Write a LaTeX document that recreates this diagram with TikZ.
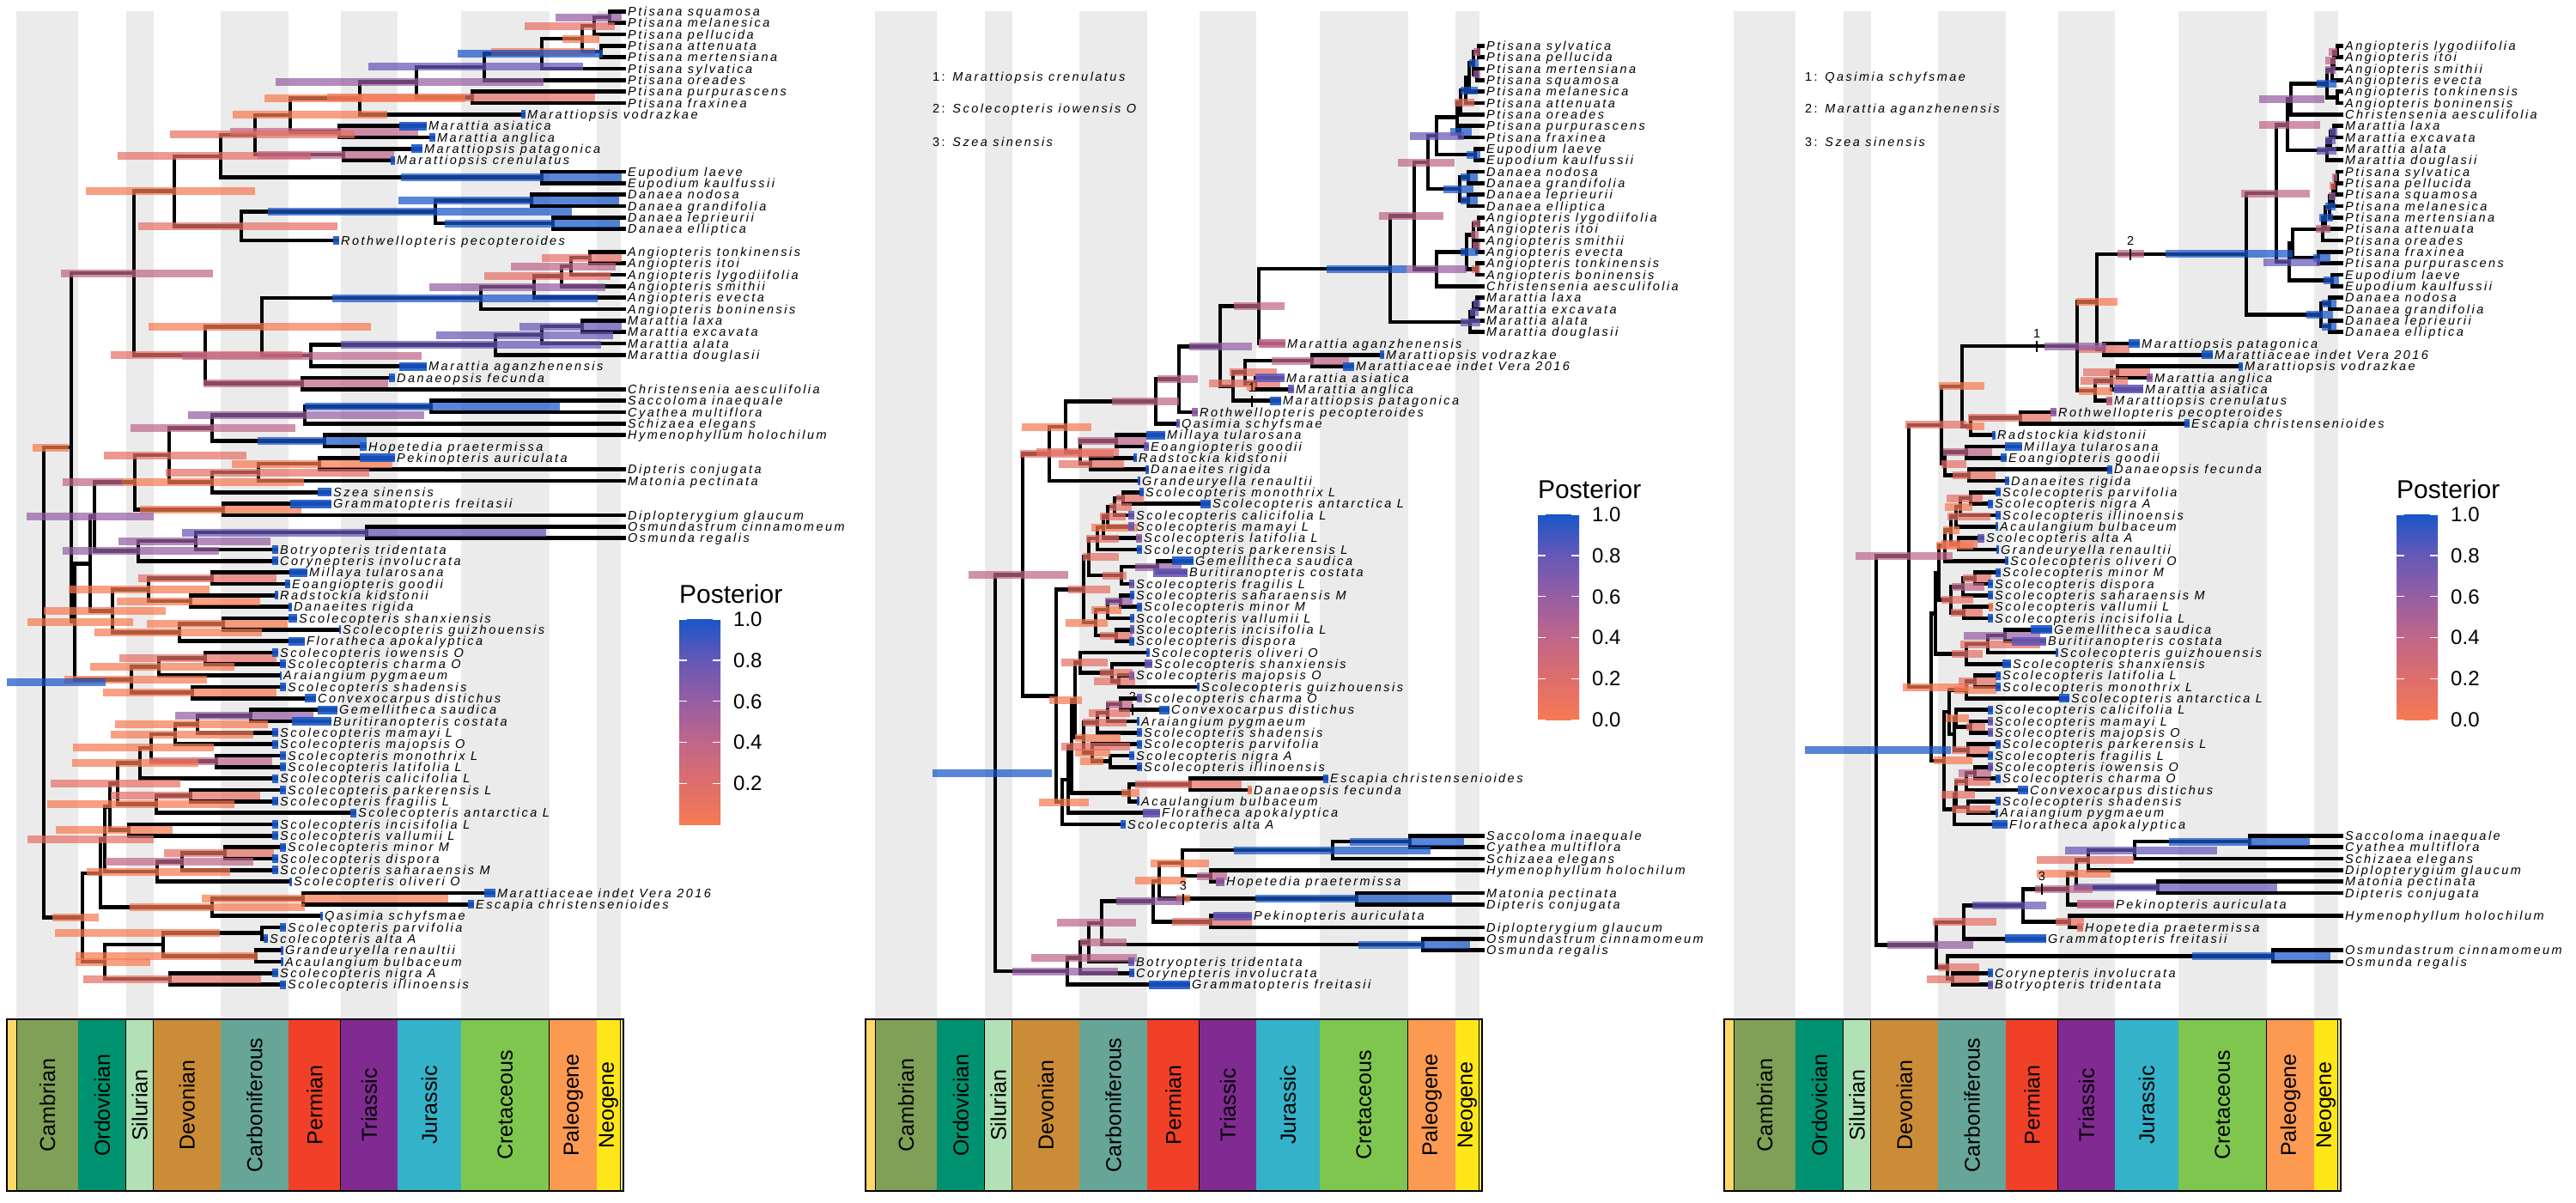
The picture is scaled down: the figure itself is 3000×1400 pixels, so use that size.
\documentclass[tikz,border=0pt]{standalone}
\usepackage{fontspec}
\setmainfont{Liberation Sans}
\newfontfamily\labfont{Liberation Sans}[LetterSpace=17]
\usetikzlibrary{calc}
\definecolor{k0}{RGB}{247,122,82}
\definecolor{k1}{RGB}{230,112,102}
\definecolor{k2}{RGB}{192,102,138}
\definecolor{k3}{RGB}{150,94,163}
\definecolor{k4}{RGB}{102,88,183}
\definecolor{k5}{RGB}{24,86,200}
\definecolor{g2}{RGB}{222,110,108}
\definecolor{stripecol}{RGB}{235,235,235}
\definecolor{edi}{RGB}{254,217,106}
\definecolor{cam}{RGB}{127,160,86}
\definecolor{ord}{RGB}{0,146,112}
\definecolor{sil}{RGB}{179,225,182}
\definecolor{dev}{RGB}{203,140,55}
\definecolor{car}{RGB}{103,165,153}
\definecolor{per}{RGB}{240,64,40}
\definecolor{tri}{RGB}{129,43,146}
\definecolor{jur}{RGB}{52,178,201}
\definecolor{cre}{RGB}{127,198,78}
\definecolor{pal}{RGB}{253,154,82}
\definecolor{neo}{RGB}{255,230,25}
\definecolor{qua}{RGB}{249,249,127}
\pgfdeclareverticalshading{postsh}{100bp}{color(0bp)=(k0); color(25bp)=(k0); color(35bp)=(g2); color(45bp)=(k2); color(55bp)=(k3); color(65bp)=(k4); color(75bp)=(k5); color(100bp)=(k5)}
\tikzset{
 br/.style={line width=4.6pt, line join=miter, line cap=butt},
 lab/.style={anchor=base west, inner sep=0pt, font=\labfont\fontsize{14.5}{15}\selectfont\itshape},
 mknum/.style={inner sep=0pt, font=\labfont\fontsize{14.5}{15}\selectfont},
 stripe/.style={fill=stripecol}
}
\def\off{0}
\newcommand\tp[4]{\coordinate (#1) at ({\off+#3},{#2*13.3333});
 \node[lab] (#1l) at ([xshift=2pt,yshift=-5pt]#1) {#4};}
\newcommand\cl[4]{\coordinate (tmpx) at ({\off+#2},0);
 \coordinate (tmpm) at ($(#3)!.5!(#4)$);
 \coordinate (#1) at (tmpx |- tmpm);
 \draw[br] (#3) -| (#1) |- (#4);}
\newcommand\hp[4]{\coordinate (tmpa) at ({\off+#2},0);\coordinate (tmpb) at ({\off+#3},0);
 \fill[#4,opacity=.72] ($(tmpa |- #1)+(0,-4.5)$) rectangle ($(tmpb |- #1)+(0,4.5)$);}
\newcommand\fs[3]{\fill[#3,opacity=.9] ($(#1)+(-#2,-5)$) rectangle ($(#1)+(0,5)$);}
\newcommand\mk[4]{\draw[line width=1.3pt] ({#2},{#3-6}) -- ({#2},{#3+7});
 \node[mknum] (#1) at ({#2},{#3-15}) {#4};}
\newcommand\decor[1]{%
 \foreach \pa/\pb in {19.1/91.2,146.7/178.6,257/336.1,396.7/463,537/639.7,695.2/722.6}
  {\fill[stripe] ({\off+\pa},13) rectangle ({\off+\pb},1187);}
 \fill[edi] ({\off+7.7},1187) rectangle ({\off+19.1},1387);
 \fill[qua] ({\off+722.6},1187) rectangle ({\off+725.8},1387);
 \foreach \pa/\pb/\pc/\pn in {19.1/91.2/cam/Cambrian,91.2/146.7/ord/Ordovician,146.7/178.6/sil/Silurian,178.6/257/dev/Devonian,257/336.1/car/Carboniferous,336.1/396.7/per/Permian,396.7/463/tri/Triassic,463/537/jur/Jurassic,537/639.7/cre/Cretaceous,639.7/695.2/pal/Paleogene,695.2/722.6/neo/Neogene}
  {\fill[\pc] ({\off+\pa},1187) rectangle ({\off+\pb},1387);
   \draw[line width=0.9pt] ({\off+\pb},1187) -- ({\off+\pb},1387);
   \node[rotate=90, inner sep=0pt, font=\fontsize{25}{25}\selectfont] (#1\pn) at ({\off+(\pa+\pb)/2},1287) {\pn};}
 \draw[line width=0.9pt] ({\off+19.1},1187) -- ({\off+19.1},1387);
 \draw[line width=2pt] ({\off+7.7},1187) rectangle ({\off+725.8},1387);
}
\newcommand\postleg[4]{%
 \node[anchor=west,inner sep=0pt,font=\fontsize{30}{30}\selectfont] (#4title) at ({\off+791},#2) {Posterior};
 \shade[shading=postsh] ({\off+791},#1) rectangle ({\off+839},{#1+239.5});
 \foreach \v/\t in {#3} {
   \draw[white,line width=1.2pt] ({\off+791},{#1+\v*47.9}) -- ({\off+800},{#1+\v*47.9});
   \draw[white,line width=1.2pt] ({\off+830},{#1+\v*47.9}) -- ({\off+839},{#1+\v*47.9});
   \node[anchor=west,inner sep=0pt,font=\fontsize{24}{24}\selectfont] (#4tick\v) at ({\off+854},{#1+\v*47.9}) {\t};
 }
}
\begin{document}
\begin{tikzpicture}[x=1pt,y=-1pt]
\useasboundingbox (0,0) rectangle (3000,1400);
%================ PANEL 1 =================
\def\off{0}
\decor{a}
\postleg{721}{692}{0/1.0,1/0.8,2/0.6,3/0.4,4/0.2}{a}
\tp{at1}{1}{729}{Ptisana squamosa}
\tp{at2}{2}{729}{Ptisana melanesica}
\tp{at3}{3}{729}{Ptisana pellucida}
\tp{at4}{4}{729}{Ptisana attenuata}
\tp{at5}{5}{729}{Ptisana mertensiana}
\tp{at6}{6}{729}{Ptisana sylvatica}
\tp{at7}{7}{729}{Ptisana oreades}
\tp{at8}{8}{729}{Ptisana purpurascens}
\tp{at9}{9}{729}{Ptisana fraxinea}
\tp{at10}{10}{612}{Marattiopsis vodrazkae}
\tp{at11}{11}{497}{Marattia asiatica}
\tp{at12}{12}{507}{Marattia anglica}
\tp{at13}{13}{492}{Marattiopsis patagonica}
\tp{at14}{14}{460}{Marattiopsis crenulatus}
\tp{at15}{15}{729}{Eupodium laeve}
\tp{at16}{16}{729}{Eupodium kaulfussii}
\tp{at17}{17}{729}{Danaea nodosa}
\tp{at18}{18}{729}{Danaea grandifolia}
\tp{at19}{19}{729}{Danaea leprieurii}
\tp{at20}{20}{729}{Danaea elliptica}
\tp{at21}{21}{395}{Rothwellopteris pecopteroides}
\tp{at22}{22}{729}{Angiopteris tonkinensis}
\tp{at23}{23}{729}{Angiopteris itoi}
\tp{at24}{24}{729}{Angiopteris lygodiifolia}
\tp{at25}{25}{729}{Angiopteris smithii}
\tp{at26}{26}{729}{Angiopteris evecta}
\tp{at27}{27}{729}{Angiopteris boninensis}
\tp{at28}{28}{729}{Marattia laxa}
\tp{at29}{29}{729}{Marattia excavata}
\tp{at30}{30}{729}{Marattia alata}
\tp{at31}{31}{729}{Marattia douglasii}
\tp{at32}{32}{497}{Marattia aganzhenensis}
\tp{at33}{33}{460}{Danaeopsis fecunda}
\tp{at34}{34}{729}{Christensenia aesculifolia}
\tp{at35}{35}{729}{Saccoloma inaequale}
\tp{at36}{36}{729}{Cyathea multiflora}
\tp{at37}{37}{729}{Schizaea elegans}
\tp{at38}{38}{729}{Hymenophyllum holochilum}
\tp{at39}{39}{427}{Hopetedia praetermissa}
\tp{at40}{40}{460}{Pekinopteris auriculata}
\tp{at41}{41}{729}{Dipteris conjugata}
\tp{at42}{42}{729}{Matonia pectinata}
\tp{at43}{43}{386}{Szea sinensis}
\tp{at44}{44}{386}{Grammatopteris freitasii}
\tp{at45}{45}{729}{Diplopterygium glaucum}
\tp{at46}{46}{729}{Osmundastrum cinnamomeum}
\tp{at47}{47}{729}{Osmunda regalis}
\tp{at48}{48}{324}{Botryopteris tridentata}
\tp{at49}{49}{324}{Corynepteris involucrata}
\tp{at50}{50}{358}{Millaya tularosana}
\tp{at51}{51}{338}{Eoangiopteris goodii}
\tp{at52}{52}{324}{Radstockia kidstonii}
\tp{at53}{53}{340}{Danaeites rigida}
\tp{at54}{54}{346}{Scolecopteris shanxiensis}
\tp{at55}{55}{397}{Scolecopteris guizhouensis}
\tp{at56}{56}{355}{Floratheca apokalyptica}
\tp{at57}{57}{324}{Scolecopteris iowensis O}
\tp{at58}{58}{333}{Scolecopteris charma O}
\tp{at59}{59}{328}{Araiangium pygmaeum}
\tp{at60}{60}{333}{Scolecopteris shadensis}
\tp{at61}{61}{368}{Convexocarpus distichus}
\tp{at62}{62}{393}{Gemellitheca saudica}
\tp{at63}{63}{386}{Buritiranopteris costata}
\tp{at64}{64}{324}{Scolecopteris mamayi L}
\tp{at65}{65}{324}{Scolecopteris majopsis O}
\tp{at66}{66}{333}{Scolecopteris monothrix L}
\tp{at67}{67}{333}{Scolecopteris latifolia L}
\tp{at68}{68}{324}{Scolecopteris calicifolia L}
\tp{at69}{69}{333}{Scolecopteris parkerensis L}
\tp{at70}{70}{324}{Scolecopteris fragilis L}
\tp{at71}{71}{415}{Scolecopteris antarctica L}
\tp{at72}{72}{324}{Scolecopteris incisifolia L}
\tp{at73}{73}{324}{Scolecopteris vallumii L}
\tp{at74}{74}{333}{Scolecopteris minor M}
\tp{at75}{75}{324}{Scolecopteris dispora}
\tp{at76}{76}{324}{Scolecopteris saharaensis M}
\tp{at77}{77}{340}{Scolecopteris oliveri O}
\tp{at78}{78}{577}{Marattiaceae indet Vera 2016}
\tp{at79}{79}{552}{Escapia christensenioides}
\tp{at80}{80}{376}{Qasimia schyfsmae}
\tp{at81}{81}{333}{Scolecopteris parvifolia}
\tp{at82}{82}{312}{Scolecopteris alta A}
\tp{at83}{83}{330}{Grandeuryella renaultii}
\tp{at84}{84}{330}{Acaulangium bulbaceum}
\tp{at85}{85}{324}{Scolecopteris nigra A}
\tp{at86}{86}{333}{Scolecopteris illinoensis}
% branches
\cl{aQ1}{710}{at1}{at2}
\cl{aQ2}{692}{aQ1}{at3}
\cl{aQ3}{700}{at4}{at5}
\cl{aQ4}{678}{aQ2}{aQ3}
\cl{aQ5}{631}{aQ4}{at6}
\cl{aQ6}{564}{aQ5}{at7}
\cl{aQ7}{550}{at8}{at9}
\cl{aQ8}{485}{aQ6}{aQ7}
\cl{aQ9}{419}{aQ8}{at10}
\cl{aM1}{395}{at11}{at12}
\cl{aM2}{338}{aQ9}{aM1}
\cl{aM3}{400}{at13}{at14}
\cl{aM4}{297}{aM2}{aM3}
\cl{aE1}{631}{at15}{at16}
\cl{aM5}{257}{aM4}{aE1}
\cl{aD1}{619}{at17}{at18}
\cl{aD2}{644}{at19}{at20}
\cl{aD3}{507}{aD1}{aD2}
\cl{aD4}{281}{aD3}{at21}
\cl{aM6}{203}{aM5}{aD4}
\cl{aA1}{687}{at22}{at23}
\cl{aA2}{665}{aA1}{at24}
\cl{aA3}{654}{aA2}{at25}
\cl{aA4}{622}{aA3}{at26}
\cl{aA5}{560}{aA4}{at27}
\cl{aMa1}{678}{at28}{at29}
\cl{aMa2}{631}{aMa1}{at30}
\cl{aMa3}{577}{aMa2}{at31}
\cl{aMa4}{362}{aMa3}{at32}
\cl{aA6}{305}{aA5}{aMa4}
\cl{aMa5}{352}{at33}{at34}
\cl{aA7}{239}{aA6}{aMa5}
\cl{aMar1}{156}{aM6}{aA7}
\cl{aF1}{502}{at35}{at36}
\cl{aF2}{355}{aF1}{at37}
\cl{aF3}{378}{at38}{at39}
\cl{aF4}{247}{aF2}{aF3}
\cl{aF5}{372}{at40}{at41}
\cl{aF6}{301}{aF5}{at42}
\cl{aF7}{247}{aF6}{at43}
\cl{aF8}{260}{at44}{at45}
\cl{aF9}{197}{aF4}{aF7}
\cl{aF10}{157}{aF9}{aF8}
\cl{aO1}{427}{at46}{at47}
\cl{aO2}{228}{aO1}{at48}
\cl{aB2}{161}{aO2}{at49}
\cl{aG1}{110}{aF10}{aB2}
\cl{aNA}{247}{at50}{at51}
\cl{aNB}{222}{at52}{at53}
\cl{aNC}{173}{aNA}{aNB}
\cl{aND}{260}{at54}{at55}
\cl{aNE}{209}{aND}{at56}
\cl{aNF}{131}{aNC}{aNE}
\cl{aG2}{105}{aG1}{aNF}
\cl{aS1}{239}{at57}{at58}
\cl{aS2}{185}{aS1}{at59}
\cl{aS3}{224}{at60}{at61}
\cl{aS4}{153}{aS2}{aS3}
\cl{aW}{87}{aG2}{aS4}
\cl{aX}{83}{aMar1}{aW}
\cl{aS5}{292}{at62}{at63}
\cl{aS6}{230}{aS5}{at64}
\cl{aS7}{204}{aS6}{at65}
\cl{aS8}{252}{at66}{at67}
\cl{aS9}{176}{aS7}{aS8}
\cl{aS10}{163}{aS9}{at68}
\cl{aS11}{222}{at69}{at70}
\cl{aS12}{182}{aS11}{at71}
\cl{aS13}{137}{aS10}{aS12}
\cl{aS14}{150}{at72}{at73}
\cl{aS15}{128}{aS13}{aS14}
\cl{aS16}{262}{at74}{at75}
\cl{aS17}{212}{aS16}{at76}
\cl{aS18}{183}{aS17}{at77}
\cl{aS19}{122}{aS15}{aS18}
\cl{aM78}{353}{at78}{at79}
\cl{aQa}{247}{aM78}{at80}
\cl{aS20}{117}{aS19}{aQa}
\cl{aL1}{305}{at81}{at82}
\cl{aL2}{298}{at83}{at84}
\cl{aL3}{190}{aL1}{aL2}
\cl{aL4}{198}{at85}{at86}
\cl{aL5}{122}{aL3}{aL4}
\cl{aY}{96}{aS20}{aL5}
\cl{aRoot}{51}{aX}{aY}
% bars
\hp{aQ1}{647}{724}{k3}\hp{aQ2}{611}{716}{k1}\hp{aQ3}{572}{693}{k0}\hp{aQ4}{655}{698}{k0}
\hp{aQ5}{533}{702}{k5}\hp{aQ6}{429}{679}{k4}\hp{aQ8}{321}{633}{k3}\hp{aQ7}{381}{693}{k1}
\hp{aQ9}{308}{542}{k0}\hp{aM2}{271}{451}{k0}\hp{aM1}{268}{487}{k2}\hp{aM4}{198}{413}{k1}
\hp{aM5}{137}{362}{k1}\hp{aM3}{300}{459}{k2}\hp{aE1}{467}{724}{k5}\hp{aD1}{464}{721}{k5}
\hp{aD3}{312}{666}{k5}\hp{aD2}{518}{722}{k5}\hp{aD4}{161}{393}{k1}\hp{aM6}{100}{297}{k0}
\hp{aMar1}{71}{248}{k2}\hp{aA1}{631}{724}{k1}\hp{aA2}{595}{717}{k2}\hp{aA3}{564}{711}{k1}
\hp{aA4}{500}{705}{k3}\hp{aA5}{387}{696}{k5}\hp{aMa1}{605}{724}{k4}\hp{aMa2}{508}{714}{k4}
\hp{aMa3}{397}{700}{k4}\hp{aA6}{173}{432}{k0}\hp{aA7}{129}{352}{k1}\hp{aMa4}{212}{491}{k2}
\hp{aMa5}{237}{452}{k2}\hp{aF1}{355}{652}{k5}\hp{aF2}{219}{494}{k3}\hp{aF4}{152}{344}{k2}
\hp{aF3}{300}{427}{k5}\hp{aF9}{121}{287}{k1}\hp{aF5}{270}{457}{k0}\hp{aF6}{193}{430}{k1}
\hp{aF7}{142}{354}{k0}\hp{aF10}{73}{143}{k2}\hp{aF8}{163}{351}{k0}\hp{aG1}{31}{179}{k3}
\hp{aO1}{212}{636}{k4}\hp{aO2}{138}{315}{k3}\hp{aB2}{73}{255}{k3}\hp{aNA}{161}{322}{k1}
\hp{aNC}{80}{244}{k0}\hp{aNB}{136}{303}{k0}\hp{aNF}{51}{193}{k0}\hp{aND}{171}{335}{k0}
\hp{aNE}{110}{305}{k0}\hp{aW}{32}{155}{k0}\hp{aX}{38}{80}{k0}\hp{aS1}{139}{322}{k1}
\hp{aS2}{105}{273}{k0}\hp{aS4}{75}{241}{k0}\hp{aS3}{120}{322}{k0}\hp{aS5}{204}{365}{k3}
\hp{aS6}{134}{312}{k0}\hp{aS7}{129}{295}{k0}\hp{aS8}{174}{317}{k2}\hp{aS9}{85}{249}{k0}
\hp{aS10}{84}{231}{k0}\hp{aS11}{129}{303}{k1}\hp{aS12}{55}{273}{k0}\hp{aS13}{59}{210}{k1}
\hp{aS14}{65}{201}{k0}\hp{aS16}{191}{319}{k1}\hp{aS17}{123}{295}{k2}\hp{aS18}{101}{268}{k0}
\hp{aS19}{32}{179}{k1}\hp{aM78}{235}{522}{k0}\hp{aQa}{151}{355}{k0}\hp{aY}{61}{115}{k0}
\hp{aL1}{64}{256}{k0}\hp{aL2}{88}{300}{k0}\hp{aL5}{88}{175}{k0}\hp{aL4}{97}{304}{k1}
\hp{aRoot}{8}{123}{k5}
% fossil tips
\fs{at10}{5}{k5}\fs{at11}{32}{k5}\fs{at12}{7}{k5}\fs{at13}{13}{k5}\fs{at14}{5}{k5}
\fs{at21}{7}{k5}\fs{at32}{32}{k5}\fs{at33}{7}{k5}\fs{at39}{8}{k5}\fs{at40}{41}{k5}
\fs{at43}{16}{k5}\fs{at44}{48}{k5}\fs{at48}{7}{k5}\fs{at49}{7}{k5}\fs{at50}{21}{k5}
\fs{at51}{6}{k5}\fs{at52}{4}{k5}\fs{at53}{4}{k5}\fs{at54}{10}{k5}\fs{at55}{2}{k5}
\fs{at56}{19}{k5}\fs{at57}{7}{k5}\fs{at58}{7}{k5}\fs{at59}{2}{k5}\fs{at60}{7}{k5}
\fs{at61}{13}{k5}\fs{at62}{23}{k5}\fs{at63}{46}{k5}
\foreach \q in {64,...,76} {\fs{at\q}{7}{k5}}
\fs{at77}{3}{k5}\fs{at78}{13}{k5}\fs{at79}{7}{k5}\fs{at80}{3}{k5}\fs{at81}{7}{k5}
\fs{at82}{5}{k5}\fs{at83}{3}{k5}\fs{at84}{3}{k5}\fs{at85}{7}{k5}\fs{at86}{7}{k5}
%================ PANEL 2 =================
\def\off{1000}
\decor{b}
\postleg{599}{570}{0/1.0,1/0.8,2/0.6,3/0.4,4/0.2,5/0.0}{b}
\node[lab] (bn1) at (1086,94.3) {\upshape 1: \itshape Marattiopsis crenulatus};
\node[lab] (bn2) at (1086,131) {\upshape 2: \itshape Scolecopteris iowensis O};
\node[lab] (bn3) at (1086,170) {\upshape 3: \itshape Szea sinensis};
\tp{bt4}{4}{729}{Ptisana sylvatica}
\tp{bt5}{5}{729}{Ptisana pellucida}
\tp{bt6}{6}{729}{Ptisana mertensiana}
\tp{bt7}{7}{729}{Ptisana squamosa}
\tp{bt8}{8}{729}{Ptisana melanesica}
\tp{bt9}{9}{729}{Ptisana attenuata}
\tp{bt10}{10}{729}{Ptisana oreades}
\tp{bt11}{11}{729}{Ptisana purpurascens}
\tp{bt12}{12}{729}{Ptisana fraxinea}
\tp{bt13}{13}{729}{Eupodium laeve}
\tp{bt14}{14}{729}{Eupodium kaulfussii}
\tp{bt15}{15}{729}{Danaea nodosa}
\tp{bt16}{16}{729}{Danaea grandifolia}
\tp{bt17}{17}{729}{Danaea leprieurii}
\tp{bt18}{18}{729}{Danaea elliptica}
\tp{bt19}{19}{729}{Angiopteris lygodiifolia}
\tp{bt20}{20}{729}{Angiopteris itoi}
\tp{bt21}{21}{729}{Angiopteris smithii}
\tp{bt22}{22}{729}{Angiopteris evecta}
\tp{bt23}{23}{729}{Angiopteris tonkinensis}
\tp{bt24}{24}{729}{Angiopteris boninensis}
\tp{bt25}{25}{729}{Christensenia aesculifolia}
\tp{bt26}{26}{729}{Marattia laxa}
\tp{bt27}{27}{729}{Marattia excavata}
\tp{bt28}{28}{729}{Marattia alata}
\tp{bt29}{29}{729}{Marattia douglasii}
\tp{bt30}{30}{497}{Marattia aganzhenensis}
\tp{bt31}{31}{612}{Marattiopsis vodrazkae}
\tp{bt32}{32}{577}{Marattiaceae indet Vera 2016}
\tp{bt33}{33}{496}{Marattia asiatica}
\tp{bt34}{34}{507}{Marattia anglica}
\tp{bt35}{35}{492}{Marattiopsis patagonica}
\tp{bt36}{36}{395}{Rothwellopteris pecopteroides}
\tp{bt37}{37}{374}{Qasimia schyfsmae}
\tp{bt38}{38}{357}{Millaya tularosana}
\tp{bt39}{39}{338}{Eoangiopteris goodii}
\tp{bt40}{40}{324}{Radstockia kidstonii}
\tp{bt41}{41}{338}{Danaeites rigida}
\tp{bt42}{42}{328}{Grandeuryella renaultii}
\tp{bt43}{43}{332}{Scolecopteris monothrix L}
\tp{bt44}{44}{410}{Scolecopteris antarctica L}
\tp{bt45}{45}{321}{Scolecopteris calicifolia L}
\tp{bt46}{46}{321}{Scolecopteris mamayi L}
\tp{bt47}{47}{330}{Scolecopteris latifolia L}
\tp{bt48}{48}{330}{Scolecopteris parkerensis L}
\tp{bt49}{49}{390}{Gemellitheca saudica}
\tp{bt50}{50}{383}{Buritiranopteris costata}
\tp{bt51}{51}{321}{Scolecopteris fragilis L}
\tp{bt52}{52}{321}{Scolecopteris saharaensis M}
\tp{bt53}{53}{330}{Scolecopteris minor M}
\tp{bt54}{54}{321}{Scolecopteris vallumii L}
\tp{bt55}{55}{321}{Scolecopteris incisifolia L}
\tp{bt56}{56}{321}{Scolecopteris dispora}
\tp{bt57}{57}{339}{Scolecopteris oliveri O}
\tp{bt58}{58}{342}{Scolecopteris shanxiensis}
\tp{bt59}{59}{321}{Scolecopteris majopsis O}
\tp{bt60}{60}{397}{Scolecopteris guizhouensis}
\tp{bt61}{61}{330}{Scolecopteris charma O}
\tp{bt62}{62}{362}{Convexocarpus distichus}
\tp{bt63}{63}{327}{Araiangium pygmaeum}
\tp{bt64}{64}{330}{Scolecopteris shadensis}
\tp{bt65}{65}{330}{Scolecopteris parvifolia}
\tp{bt66}{66}{321}{Scolecopteris nigra A}
\tp{bt67}{67}{330}{Scolecopteris illinoensis}
\tp{bt68}{68}{547}{Escapia christensenioides}
\tp{bt69}{69}{458}{Danaeopsis fecunda}
\tp{bt70}{70}{327}{Acaulangium bulbaceum}
\tp{bt71}{71}{351}{Floratheca apokalyptica}
\tp{bt72}{72}{311}{Scolecopteris alta A}
\tp{bt73}{73}{729}{Saccoloma inaequale}
\tp{bt74}{74}{729}{Cyathea multiflora}
\tp{bt75}{75}{729}{Schizaea elegans}
\tp{bt76}{76}{729}{Hymenophyllum holochilum}
\tp{bt77}{77}{426}{Hopetedia praetermissa}
\tp{bt78}{78}{729}{Matonia pectinata}
\tp{bt79}{79}{729}{Dipteris conjugata}
\tp{bt80}{80}{458}{Pekinopteris auriculata}
\tp{bt81}{81}{729}{Diplopterygium glaucum}
\tp{bt82}{82}{729}{Osmundastrum cinnamomeum}
\tp{bt83}{83}{729}{Osmunda regalis}
\tp{bt84}{84}{321}{Botryopteris tridentata}
\tp{bt85}{85}{321}{Corynepteris involucrata}
\tp{bt86}{86}{386}{Grammatopteris freitasii}
\cl{bP1}{722}{bt4}{bt5}
\cl{bP2}{720}{bt6}{bt7}
\cl{bP3}{716}{bP1}{bP2}
\cl{bP4}{711}{bP3}{bt8}
\cl{bP5}{707}{bP4}{bt9}
\cl{bP6}{701}{bP5}{bt10}
\cl{bP7}{700}{bt11}{bt12}
\cl{bP8}{697}{bP6}{bP7}
\cl{bE1}{718}{bt13}{bt14}
\cl{bP9}{673}{bP8}{bE1}
\cl{bD1}{710}{bt15}{bt16}
\cl{bD2}{710}{bt17}{bt18}
\cl{bD3}{700}{bD1}{bD2}
\cl{bP10}{663}{bP9}{bD3}
\cl{bA1}{722}{bt19}{bt20}
\cl{bA2}{720}{bt21}{bt22}
\cl{bA3}{716}{bA1}{bA2}
\cl{bA4}{720}{bt23}{bt24}
\cl{bA5}{708}{bA3}{bA4}
\cl{bA6}{673}{bA5}{bt25}
\cl{bN647}{647}{bP10}{bA6}
\cl{bM1}{720}{bt26}{bt27}
\cl{bM2}{716}{bM1}{bt28}
\cl{bM3}{712}{bM2}{bt29}
\cl{bN619}{619}{bN647}{bM3}
\cl{bN466}{466}{bN619}{bt30}
\cl{bV1}{528}{bt31}{bt32}
\cl{bV3}{462}{bt33}{bt34}
\cl{bV4}{450}{bV1}{bV3}
\cl{bV5}{436}{bV4}{bt35}
\cl{bN421}{421}{bN466}{bV5}
\cl{bN373}{373}{bN421}{bt36}
\cl{bN346}{346}{bN373}{bt37}
\cl{bMG1}{300}{bt38}{bt39}
\cl{bMG2}{270}{bt40}{bt41}
\cl{bMG3}{258}{bMG1}{bMG2}
\cl{bN240}{241}{bN346}{bMG3}
\cl{bN222}{222}{bN240}{bt42}
\cl{bS1}{308}{bt43}{bt44}
\cl{bS2}{298}{bS1}{bt45}
\cl{bS3}{290}{bS2}{bt46}
\cl{bS4}{285}{bS3}{bt47}
\cl{bS5}{278}{bS4}{bt48}
\cl{bB1}{348}{bt49}{bt50}
\cl{bB2}{306}{bB1}{bt51}
\cl{bS6}{268}{bS5}{bB2}
\cl{bS7}{305}{bt52}{bt53}
\cl{bS8}{290}{bS7}{bt54}
\cl{bS9}{300}{bt55}{bt56}
\cl{bS10}{276}{bS8}{bS9}
\cl{bS11}{262}{bS6}{bS10}
\cl{bS12}{303}{bt59}{bt60}
\cl{bS13}{295}{bt58}{bS12}
\cl{bS14}{258}{bt57}{bS13}
\cl{bS15}{305}{bt61}{bt62}
\cl{bS16}{290}{bS15}{bt63}
\cl{bS17}{278}{bS16}{bt64}
\cl{bS18}{293}{bt66}{bt67}
\cl{bS19}{272}{bt65}{bS18}
\cl{bS20}{262}{bS17}{bS19}
\cl{bS21}{252}{bS14}{bS20}
\cl{bE1b}{386}{bt68}{bt69}
\cl{bE2}{315}{bE1b}{bt70}
\cl{bK1}{248}{bS21}{bE2}
\cl{bK2}{244}{bK1}{bt71}
\cl{bK}{237}{bK2}{bt72}
\cl{bL}{230}{bS11}{bK}
\cl{bN191}{191}{bN222}{bL}
\cl{bF1}{642}{bt73}{bt74}
\cl{bF2}{552}{bF1}{bt75}
\cl{bF3}{410}{bt76}{bt77}
\cl{bF4}{377}{bF2}{bF3}
\cl{bF5}{580}{bt78}{bt79}
\cl{bF6}{350}{bF4}{bF5}
\cl{bF7}{410}{bt80}{bt81}
\cl{bF8}{343}{bF6}{bF7}
\cl{bO1}{657}{bt82}{bt83}
\cl{bF9}{283}{bF8}{bO1}
\cl{bB1f}{268}{bF9}{bt84}
\cl{bB2f}{258}{bB1f}{bt85}
\cl{bB3f}{243}{bB2f}{bt86}
\cl{bRoot}{159}{bN191}{bB3f}
\hp{bP1}{716}{724}{k2}\hp{bP2}{716}{724}{k3}\hp{bP3}{711}{722}{k5}\hp{bP5}{701}{721}{k5}
\hp{bP6}{694}{717}{k1}\hp{bP7}{689}{714}{k5}\hp{bP9}{642}{705}{k4}\hp{bE1}{708}{724}{k5}
\hp{bD1}{701}{721}{k5}\hp{bD2}{701}{721}{k5}\hp{bD3}{681}{716}{k5}\hp{bP10}{628}{694}{k2}
\hp{bA1}{715}{724}{k2}\hp{bA2}{715}{724}{k2}\hp{bA3}{713}{722}{k2}\hp{bA4}{714}{724}{k1}
\hp{bA5}{701}{721}{k5}\hp{bA6}{638}{708}{k3}\hp{bN647}{606}{681}{k2}\hp{bN619}{545}{638}{k5}
\hp{bM1}{716}{724}{k4}\hp{bM2}{712}{722}{k4}\hp{bM3}{701}{724}{k4}\hp{bN466}{437}{496}{k2}
\hp{bV1}{481}{571}{k2}\hp{bV3}{408}{491}{k1}\hp{bV4}{432}{487}{k1}\hp{bV5}{452}{462}{k0}
\hp{bN421}{385}{458}{k3}\hp{bN373}{348}{395}{k2}\hp{bN346}{295}{373}{k2}\hp{bMG1}{255}{335}{k2}
\hp{bMG2}{233}{309}{k1}\hp{bMG3}{207}{303}{k1}\hp{bN240}{190}{271}{k0}\hp{bN222}{188}{297}{k1}
\hp{bN191}{128}{244}{k2}
\hp{bS1}{300}{332}{k1}\hp{bS2}{292}{318}{k1}\hp{bS3}{281}{311}{k1}\hp{bS4}{271}{325}{k0}
\hp{bS5}{265}{303}{k1}\hp{bB1}{322}{376}{k3}\hp{bB2}{284}{312}{k1}\hp{bS6}{261}{303}{k1}
\hp{bS7}{287}{319}{k3}\hp{bS8}{271}{306}{k0}\hp{bS9}{281}{319}{k1}\hp{bS10}{241}{290}{k0}
\hp{bS11}{244}{293}{k1}\hp{bS12}{274}{322}{k1}\hp{bS13}{281}{319}{k1}\hp{bS14}{236}{290}{k1}
\hp{bS15}{288}{319}{k2}\hp{bS16}{268}{316}{k1}\hp{bS17}{261}{312}{k1}\hp{bS18}{258}{285}{k0}
\hp{bS19}{252}{293}{k0}\hp{bS20}{252}{305}{k0}\hp{bS21}{222}{260}{k0}\hp{bE1b}{322}{446}{k1}
\hp{bE2}{306}{327}{k0}\hp{bK1}{236}{316}{k1}\hp{bK}{210}{268}{k0}\hp{bRoot}{86}{225}{k5}
\hp{bF1}{572}{705}{k5}\hp{bF2}{437}{666}{k5}\hp{bF3}{394}{429}{k2}\hp{bF4}{340}{408}{k0}
\hp{bF5}{462}{691}{k5}\hp{bF5}{370}{386}{k0}\hp{bF6}{322}{381}{k0}\hp{bF7}{365}{458}{k1}
\hp{bF8}{300}{379}{k3}\hp{bO1}{582}{712}{k5}\hp{bF9}{231}{323}{k2}\hp{bB1f}{258}{312}{k2}
\hp{bB2f}{201}{324}{k2}\hp{bB3f}{179}{302}{k3}
\fs{bt30}{31}{k2}\fs{bt31}{5}{k5}\fs{bt32}{13}{k5}\fs{bt33}{34}{k4}\fs{bt34}{7}{k4}
\fs{bt35}{13}{k5}\fs{bt36}{7}{k3}\fs{bt37}{4}{k4}\fs{bt38}{22}{k5}\fs{bt39}{6}{k4}
\fs{bt40}{4}{k5}\fs{bt41}{4}{k5}\fs{bt42}{3}{k5}\fs{bt43}{5}{k5}\fs{bt44}{12}{k5}
\fs{bt45}{7}{k4}\fs{bt46}{7}{k4}\fs{bt47}{7}{k3}\fs{bt48}{6}{k5}\fs{bt49}{25}{k5}
\fs{bt50}{40}{k4}\fs{bt51}{6}{k4}\fs{bt52}{5}{k5}\fs{bt53}{6}{k5}\fs{bt54}{5}{k5}
\fs{bt55}{5}{k4}\fs{bt56}{6}{k5}\fs{bt57}{4}{k5}\fs{bt58}{9}{k4}\fs{bt59}{6}{k3}
\fs{bt60}{3}{k5}\fs{bt61}{6}{k4}\fs{bt62}{12}{k5}\fs{bt63}{3}{k5}\fs{bt64}{6}{k5}
\fs{bt65}{6}{k5}\fs{bt66}{6}{k5}\fs{bt67}{6}{k5}\fs{bt68}{6}{k5}\fs{bt69}{5}{k0}
\fs{bt70}{3}{k5}\fs{bt71}{20}{k4}\fs{bt72}{6}{k5}\fs{bt77}{10}{k3}\fs{bt80}{45}{k4}
\fs{bt84}{7}{k4}\fs{bt85}{6}{k5}\fs{bt86}{48}{k5}
\mk{bm1}{1458}{466.7}{1}
\mk{bm2}{1319}{826}{2}
\mk{bm3}{1378}{1046.7}{3}
%================ PANEL 3 =================
\def\off{2000}
\decor{c}
\postleg{599}{570}{0/1.0,1/0.8,2/0.6,3/0.4,4/0.2,5/0.0}{c}
\node[lab] (cn1) at (2102,94.3) {\upshape 1: \itshape Qasimia schyfsmae};
\node[lab] (cn2) at (2102,131) {\upshape 2: \itshape Marattia aganzhenensis};
\node[lab] (cn3) at (2102,170) {\upshape 3: \itshape Szea sinensis};
\tp{ct4}{4}{729}{Angiopteris lygodiifolia}
\tp{ct5}{5}{729}{Angiopteris itoi}
\tp{ct6}{6}{729}{Angiopteris smithii}
\tp{ct7}{7}{729}{Angiopteris evecta}
\tp{ct8}{8}{729}{Angiopteris tonkinensis}
\tp{ct9}{9}{729}{Angiopteris boninensis}
\tp{ct10}{10}{729}{Christensenia aesculifolia}
\tp{ct11}{11}{729}{Marattia laxa}
\tp{ct12}{12}{729}{Marattia excavata}
\tp{ct13}{13}{729}{Marattia alata}
\tp{ct14}{14}{729}{Marattia douglasii}
\tp{ct15}{15}{729}{Ptisana sylvatica}
\tp{ct16}{16}{729}{Ptisana pellucida}
\tp{ct17}{17}{729}{Ptisana squamosa}
\tp{ct18}{18}{729}{Ptisana melanesica}
\tp{ct19}{19}{729}{Ptisana mertensiana}
\tp{ct20}{20}{729}{Ptisana attenuata}
\tp{ct21}{21}{729}{Ptisana oreades}
\tp{ct22}{22}{729}{Ptisana fraxinea}
\tp{ct23}{23}{729}{Ptisana purpurascens}
\tp{ct24}{24}{729}{Eupodium laeve}
\tp{ct25}{25}{729}{Eupodium kaulfussii}
\tp{ct26}{26}{729}{Danaea nodosa}
\tp{ct27}{27}{729}{Danaea grandifolia}
\tp{ct28}{28}{729}{Danaea leprieurii}
\tp{ct29}{29}{729}{Danaea elliptica}
\tp{ct30}{30}{492}{Marattiopsis patagonica}
\tp{ct31}{31}{577}{Marattiaceae indet Vera 2016}
\tp{ct32}{32}{612}{Marattiopsis vodrazkae}
\tp{ct33}{33}{507}{Marattia anglica}
\tp{ct34}{34}{496}{Marattia asiatica}
\tp{ct35}{35}{460}{Marattiopsis crenulatus}
\tp{ct36}{36}{395}{Rothwellopteris pecopteroides}
\tp{ct37}{37}{550}{Escapia christensenioides}
\tp{ct38}{38}{324}{Radstockia kidstonii}
\tp{ct39}{39}{355}{Millaya tularosana}
\tp{ct40}{40}{337}{Eoangiopteris goodii}
\tp{ct41}{41}{460}{Danaeopsis fecunda}
\tp{ct42}{42}{340}{Danaeites rigida}
\tp{ct43}{43}{330}{Scolecopteris parvifolia}
\tp{ct44}{44}{321}{Scolecopteris nigra A}
\tp{ct45}{45}{330}{Scolecopteris illinoensis}
\tp{ct46}{46}{327}{Acaulangium bulbaceum}
\tp{ct47}{47}{311}{Scolecopteris alta A}
\tp{ct48}{48}{328}{Grandeuryella renaultii}
\tp{ct49}{49}{339}{Scolecopteris oliveri O}
\tp{ct50}{50}{330}{Scolecopteris minor M}
\tp{ct51}{51}{321}{Scolecopteris dispora}
\tp{ct52}{52}{321}{Scolecopteris saharaensis M}
\tp{ct53}{53}{321}{Scolecopteris vallumii L}
\tp{ct54}{54}{321}{Scolecopteris incisifolia L}
\tp{ct55}{55}{390}{Gemellitheca saudica}
\tp{ct56}{56}{383}{Buritiranopteris costata}
\tp{ct57}{57}{397}{Scolecopteris guizhouensis}
\tp{ct58}{58}{342}{Scolecopteris shanxiensis}
\tp{ct59}{59}{330}{Scolecopteris latifolia L}
\tp{ct60}{60}{330}{Scolecopteris monothrix L}
\tp{ct61}{61}{410}{Scolecopteris antarctica L}
\tp{ct62}{62}{321}{Scolecopteris calicifolia L}
\tp{ct63}{63}{321}{Scolecopteris mamayi L}
\tp{ct64}{64}{321}{Scolecopteris majopsis O}
\tp{ct65}{65}{330}{Scolecopteris parkerensis L}
\tp{ct66}{66}{321}{Scolecopteris fragilis L}
\tp{ct67}{67}{321}{Scolecopteris iowensis O}
\tp{ct68}{68}{330}{Scolecopteris charma O}
\tp{ct69}{69}{362}{Convexocarpus distichus}
\tp{ct70}{70}{330}{Scolecopteris shadensis}
\tp{ct71}{71}{327}{Araiangium pygmaeum}
\tp{ct72}{72}{338}{Floratheca apokalyptica}
\tp{ct73}{73}{729}{Saccoloma inaequale}
\tp{ct74}{74}{729}{Cyathea multiflora}
\tp{ct75}{75}{729}{Schizaea elegans}
\tp{ct76}{76}{729}{Diplopterygium glaucum}
\tp{ct77}{77}{729}{Matonia pectinata}
\tp{ct78}{78}{729}{Dipteris conjugata}
\tp{ct79}{79}{462}{Pekinopteris auriculata}
\tp{ct80}{80}{729}{Hymenophyllum holochilum}
\tp{ct81}{81}{426}{Hopetedia praetermissa}
\tp{ct82}{82}{383}{Grammatopteris freitasii}
\tp{ct83}{83}{729}{Osmundastrum cinnamomeum}
\tp{ct84}{84}{729}{Osmunda regalis}
\tp{ct85}{85}{321}{Corynepteris involucrata}
\tp{ct86}{86}{321}{Botryopteris tridentata}
\cl{cA1}{722}{ct4}{ct5}
\cl{cA2}{718}{cA1}{ct6}
\cl{cA3}{716}{cA2}{ct7}
\cl{cA4}{722}{ct8}{ct9}
\cl{cA5}{710}{cA3}{cA4}
\cl{cA6}{668}{cA5}{ct10}
\cl{cM1}{718}{ct11}{ct12}
\cl{cM2}{714}{cM1}{ct13}
\cl{cM3}{710}{cM2}{ct14}
\cl{cA7}{664}{cA6}{cM3}
\cl{cP1}{722}{ct15}{ct16}
\cl{cP2}{720}{cP1}{ct17}
\cl{cP3}{717}{cP2}{ct18}
\cl{cP4}{713}{cP3}{ct19}
\cl{cP5}{708}{cP4}{ct20}
\cl{cP6}{705}{cP5}{ct21}
\cl{cP7}{700}{ct22}{ct23}
\cl{cP8}{670}{cP6}{cP7}
\cl{cE1}{716}{ct24}{ct25}
\cl{cP9}{666}{cP8}{cE1}
\cl{cN651}{651}{cA7}{cP9}
\cl{cD1}{713}{ct26}{ct27}
\cl{cD2}{713}{ct28}{ct29}
\cl{cD3}{703}{cD1}{cD2}
\cl{cN615}{616}{cN651}{cD3}
\cl{cV1}{450}{ct30}{ct31}
\cl{cN442}{442}{cN615}{cV1}
\cl{cY1}{466}{ct32}{ct33}
\cl{cY2}{459}{cY1}{ct34}
\cl{cY3}{440}{cY2}{ct35}
\cl{cN418}{419}{cN442}{cY3}
\cl{cR1}{353}{ct36}{ct37}
\cl{cR2}{295}{cR1}{ct38}
\cl{cN285}{285}{cN418}{cR2}
\cl{cMG1}{290}{ct39}{ct40}
\cl{cMG2}{293}{ct41}{ct42}
\cl{cMG3}{265}{cMG1}{cMG2}
\cl{cN261}{261}{cN285}{cMG3}
\cl{cU1}{295}{ct43}{ct44}
\cl{cU2}{283}{cU1}{ct45}
\cl{cU3}{278}{cU2}{ct46}
\cl{cU4}{281}{ct47}{ct48}
\cl{cU5}{272}{cU3}{cU4}
\cl{cU6}{265}{cU5}{ct49}
\cl{cU7}{300}{ct50}{ct51}
\cl{cU8}{286}{cU7}{ct52}
\cl{cU9}{287}{ct53}{ct54}
\cl{cU10}{272}{cU8}{cU9}
\cl{cU11}{258}{cU6}{cU10}
\cl{cU12}{335}{ct55}{ct56}
\cl{cU13}{315}{cU12}{ct57}
\cl{cU14}{290}{cU13}{ct58}
\cl{cU}{254}{cU11}{cU14}
\cl{cL1}{300}{ct59}{ct60}
\cl{cL2}{290}{cL1}{ct61}
\cl{cL3}{295}{ct63}{ct64}
\cl{cL4}{278}{ct62}{cL3}
\cl{cL5}{292}{ct65}{ct66}
\cl{cL6}{276}{cL4}{cL5}
\cl{cL7}{270}{cL2}{cL6}
\cl{cL8}{300}{ct67}{ct68}
\cl{cL9}{290}{cL8}{ct69}
\cl{cL10}{292}{ct70}{ct71}
\cl{cL11}{278}{cL9}{cL10}
\cl{cL12}{276}{cL11}{ct72}
\cl{cLw}{264}{cL7}{cL12}
\cl{cS}{249}{cU}{cLw}
\cl{cN223}{223}{cN261}{cS}
\cl{cF1}{620}{ct73}{ct74}
\cl{cF2}{486}{cF1}{ct75}
\cl{cF3}{432}{cF2}{ct76}
\cl{cF4}{513}{ct77}{ct78}
\cl{cF5}{418}{cF3}{cF4}
\cl{cF6}{408}{cF5}{ct79}
\cl{cF7}{410}{ct80}{ct81}
\cl{cF8}{356}{cF6}{cF7}
\cl{cF9}{287}{cF8}{ct82}
\cl{cO1}{647}{ct83}{ct84}
\cl{cB1}{274}{ct85}{ct86}
\cl{cO2}{268}{cO1}{cB1}
\cl{cF10}{255}{cF9}{cO2}
\cl{cRoot}{185}{cN223}{cF10}
\hp{cA1}{712}{722}{k2}\hp{cA2}{708}{720}{k2}\hp{cA3}{708}{720}{k3}\hp{cA5}{698}{721}{k5}
\hp{cA6}{631}{707}{k3}\hp{cA7}{631}{702}{k2}\hp{cM1}{713}{722}{k4}\hp{cM2}{708}{720}{k4}
\hp{cM3}{698}{721}{k4}\hp{cP1}{716}{722}{k2}\hp{cP2}{713}{720}{k1}\hp{cP3}{712}{720}{k3}
\hp{cP4}{708}{720}{k5}\hp{cP5}{701}{717}{k5}\hp{cP6}{697}{714}{k2}\hp{cP7}{694}{714}{k5}
\hp{cE1}{706}{724}{k5}\hp{cP9}{636}{702}{k4}\hp{cN651}{610}{690}{k2}\hp{cD1}{704}{721}{k5}
\hp{cD2}{704}{721}{k5}\hp{cD3}{686}{717}{k5}\hp{cN615}{522}{670}{k5}\hp{cN615}{466}{497}{k2}
\hp{cN442}{418}{466}{k0}\hp{cV1}{421}{480}{k1}\hp{cN418}{381}{453}{k3}\hp{cY1}{426}{504}{k1}
\hp{cY2}{423}{478}{k1}\hp{cY3}{421}{460}{k0}\hp{cR1}{292}{389}{k1}\hp{cR2}{290}{311}{k0}
\hp{cN285}{258}{311}{k0}\hp{cMG1}{263}{320}{k2}\hp{cMG2}{274}{324}{k1}\hp{cMG3}{261}{290}{k1}
\hp{cN261}{219}{290}{k1}\hp{cN223}{161}{274}{k2}\hp{cS}{216}{293}{k0}
\hp{cU1}{267}{309}{k1}\hp{cU2}{265}{297}{k0}\hp{cU3}{268}{318}{k1}\hp{cU4}{261}{303}{k1}
\hp{cU5}{263}{282}{k0}\hp{cU6}{255}{298}{k0}\hp{cU7}{286}{319}{k1}\hp{cU8}{273}{311}{k2}
\hp{cU9}{272}{309}{k1}\hp{cU10}{261}{298}{k1}\hp{cU12}{287}{376}{k3}\hp{cU13}{283}{376}{k1}
\hp{cU14}{273}{309}{k1}\hp{cL1}{281}{325}{k1}\hp{cL2}{276}{325}{k0}\hp{cL3}{290}{312}{k1}
\hp{cL4}{266}{293}{k0}\hp{cL5}{273}{317}{k1}\hp{cL8}{281}{319}{k2}\hp{cL9}{276}{318}{k1}
\hp{cL11}{261}{300}{k1}\hp{cL12}{273}{318}{k1}\hp{cLw}{252}{297}{k0}\hp{cRoot}{102}{272}{k5}
\hp{cF1}{526}{690}{k5}\hp{cF2}{405}{582}{k4}\hp{cF3}{372}{485}{k1}\hp{cF4}{415}{652}{k4}
\hp{cF5}{372}{458}{k0}\hp{cF6}{370}{437}{k2}\hp{cF7}{394}{427}{k1}\hp{cF8}{297}{383}{k4}
\hp{cF9}{251}{325}{k1}\hp{cO1}{553}{714}{k5}\hp{cB1}{244}{305}{k1}\hp{cO2}{257}{305}{k1}
\hp{cF10}{198}{298}{k3}
\fs{ct30}{13}{k5}\fs{ct31}{13}{k5}\fs{ct32}{5}{k5}\fs{ct33}{7}{k3}\fs{ct34}{34}{k4}
\fs{ct35}{7}{k2}\fs{ct36}{7}{k3}\fs{ct37}{6}{k5}\fs{ct38}{4}{k5}\fs{ct39}{20}{k5}
\fs{ct40}{7}{k5}\fs{ct41}{6}{k5}\fs{ct42}{5}{k5}\fs{ct43}{6}{k5}\fs{ct44}{6}{k5}
\fs{ct45}{6}{k5}\fs{ct46}{3}{k5}\fs{ct47}{8}{k4}\fs{ct48}{3}{k5}\fs{ct49}{4}{k5}
\fs{ct50}{6}{k5}\fs{ct51}{6}{k5}\fs{ct52}{6}{k5}\fs{ct53}{5}{k0}\fs{ct54}{6}{k5}
\fs{ct55}{25}{k5}\fs{ct56}{40}{k4}\fs{ct57}{3}{k5}\fs{ct58}{10}{k5}\fs{ct59}{6}{k5}
\fs{ct60}{6}{k5}\fs{ct61}{12}{k5}\fs{ct62}{6}{k5}\fs{ct63}{6}{k4}\fs{ct64}{6}{k4}
\fs{ct65}{6}{k5}\fs{ct66}{6}{k5}\fs{ct67}{6}{k4}\fs{ct68}{6}{k5}\fs{ct69}{12}{k5}
\fs{ct70}{6}{k5}\fs{ct71}{3}{k5}\fs{ct72}{18}{k5}\fs{ct79}{43}{k2}\fs{ct81}{7}{k1}
\fs{ct82}{48}{k5}\fs{ct85}{6}{k5}\fs{ct86}{6}{k4}
\mk{cm1}{2372}{403.2}{1}
\mk{cm2}{2481}{295.8}{2}
\mk{cm3}{2378}{1035.4}{3}
\end{tikzpicture}
\end{document}
